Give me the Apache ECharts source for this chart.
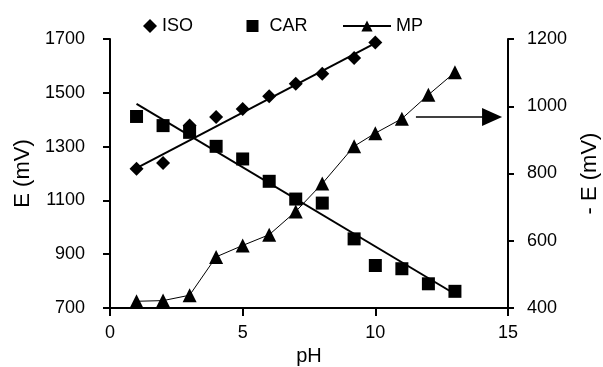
<!DOCTYPE html>
<html><head><meta charset="utf-8">
<script src="https://cdn.jsdelivr.net/npm/echarts@6/dist/echarts.min.js"></script>
<style>html,body{margin:0;padding:0;background:#fff}#c{width:603px;height:367px}</style>
</head><body><div id="c"></div>
<script>
// pH values
const pH = [1, 2, 3, 4, 5, 6, 7, 8, 9.2, 10, 11, 12, 13];
const pHIso = [1, 2, 3, 4, 5, 6, 7, 8, 9.2, 10];
// E (mV) values
const isoValues = [1218, 1239, 1378, 1410, 1440, 1487, 1534, 1571, 1629, 1687];
const carValues = [1412, 1378, 1353, 1301, 1254, 1171, 1105, 1090, 957, 858, 846, 790, 762];
// -E (mV) values (right axis)
const mpValues = [420, 422, 438, 552, 586, 618, 687, 770, 881, 920, 963, 1034, 1101];
// trend lines (end points)
const isoTrendX = [1, 10];
const isoTrendY = [1220, 1685];
const carTrendX = [1, 13];
const carTrendY = [1459, 752];
// arrow (right axis)
const arrowX = [11.53, 14.4];
const arrowY = [968, 968];
// tick labels
const leftTicks = [700, 900, 1100, 1300, 1500, 1700];

const zip = (a, b) => a.map((v, i) => [v, b[i]]);
const FONT = 'Liberation Sans';
const black = '#000';
const plain = v => String(v);

const chart = echarts.init(document.getElementById('c'), null, {renderer: 'canvas'});
chart.setOption({
  animation: false,
  backgroundColor: '#fff',
  textStyle: {fontFamily: FONT, color: black},
  grid: {left: 110, right: 95, top: 39, bottom: 59, containLabel: false, outerBoundsMode: 'none'},
  legend: [
    {data: [{name: 'ISO', icon: 'diamond'}], left: 143, top: 17, padding: 0, itemWidth: 14, itemHeight: 14,
     textStyle: {fontSize: 18, color: black, fontFamily: FONT}, selectedMode: false},
    {data: [{name: 'CAR', icon: 'rect'}], left: 246.5, top: 17, padding: 0, itemWidth: 12, itemHeight: 12,
     textStyle: {fontSize: 18, color: black, fontFamily: FONT, padding: [0, 0, 0, 6]}, selectedMode: false},
    {data: ['MP'], left: 342, top: 17, padding: 0, itemWidth: 48, itemHeight: 14,
     textStyle: {fontSize: 18, color: black, fontFamily: FONT}, selectedMode: false}
  ],
  xAxis: {
    type: 'value', min: 0, max: 15, interval: 5,
    name: 'pH', nameLocation: 'middle', nameGap: 38,
    nameTextStyle: {fontSize: 20, color: black, fontFamily: FONT},
    axisLine: {show: true, onZero: false, lineStyle: {color: black, width: 2}},
    axisTick: {show: true, inside: false, length: 8, lineStyle: {color: black, width: 2}},
    axisLabel: {fontSize: 18, color: black, margin: 16, fontFamily: FONT, formatter: plain},
    splitLine: {show: false}
  },
  yAxis: [
    {
      type: 'value', min: 700, max: 1700, interval: 100, position: 'left',
      name: 'E (mV)', nameLocation: 'middle', nameGap: 76, nameRotate: 90,
      nameTextStyle: {fontSize: 22, color: black, fontFamily: FONT},
      axisLine: {show: true, onZero: false, lineStyle: {color: black, width: 2}},
      axisTick: {show: true, length: 7, customValues: leftTicks, lineStyle: {color: black, width: 2}},
      axisLabel: {fontSize: 18, color: black, margin: 25, customValues: leftTicks, fontFamily: FONT, formatter: plain},
      splitLine: {show: false}
    },
    {
      type: 'value', min: 400, max: 1200, interval: 200, position: 'right',
      name: '- E (mV)', nameLocation: 'middle', nameGap: 71, nameRotate: 90,
      nameTextStyle: {fontSize: 22, color: black, fontFamily: FONT},
      axisLine: {show: true, onZero: false, lineStyle: {color: black, width: 2}},
      axisTick: {show: true, length: 6, lineStyle: {color: black, width: 2}},
      axisLabel: {fontSize: 18, color: black, margin: 19, fontFamily: FONT, formatter: plain},
      splitLine: {show: false}
    }
  ],
  series: [
    {
      name: 'ISO trend', type: 'line', yAxisIndex: 0, data: zip(isoTrendX, isoTrendY),
      showSymbol: false, symbol: 'none', lineStyle: {color: black, width: 2}, silent: true, z: 2
    },
    {
      name: 'CAR trend', type: 'line', yAxisIndex: 0, data: zip(carTrendX, carTrendY),
      showSymbol: false, symbol: 'none', lineStyle: {color: black, width: 2}, silent: true, z: 2
    },
    {
      name: 'ISO', type: 'scatter', yAxisIndex: 0, data: zip(pHIso, isoValues),
      symbol: 'diamond', symbolSize: 14, itemStyle: {color: black, opacity: 1}, z: 3
    },
    {
      name: 'CAR', type: 'scatter', yAxisIndex: 0, data: zip(pH, carValues),
      symbol: 'rect', symbolSize: 13, itemStyle: {color: black, opacity: 1}, z: 3
    },
    {
      name: 'MP', type: 'line', yAxisIndex: 1, data: zip(pH, mpValues),
      symbol: 'triangle', symbolSize: 14, showSymbol: true,
      itemStyle: {color: black, opacity: 1}, lineStyle: {color: black, width: 1}, z: 3,
      markLine: {
        silent: true, animation: false,
        symbol: ['none', 'triangle'], symbolSize: [18, 20],
        label: {show: false},
        lineStyle: {color: black, width: 1.5, type: 'solid'},
        data: [[{coord: [arrowX[0], arrowY[0]]}, {coord: [arrowX[1], arrowY[1]]}]]
      }
    }
  ]
});
</script></body></html>
